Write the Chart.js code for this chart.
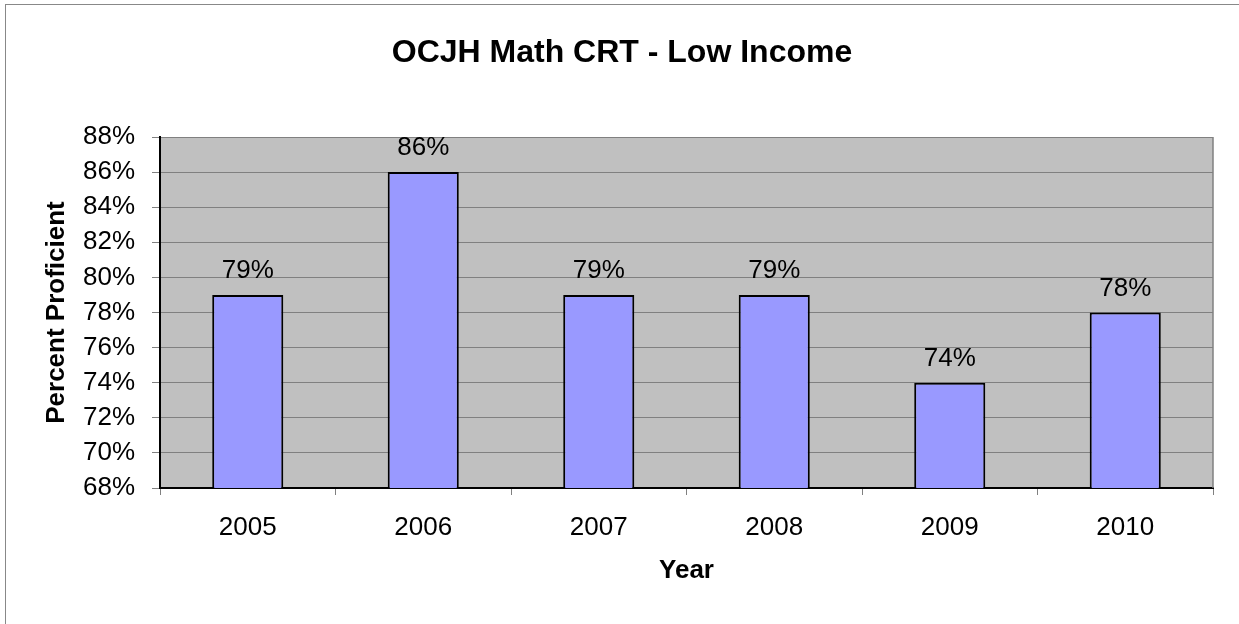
<!DOCTYPE html>
<html>
<head>
<meta charset="utf-8">
<title>OCJH Math CRT - Low Income</title>
<script src="https://cdn.jsdelivr.net/npm/chart.js@4.4.1/dist/chart.umd.min.js"></script>
<style>
    html, body { margin: 0; padding: 0; background: #fff; }
    #wrap { width: 1239px; height: 624px; position: relative; }
</style>
</head>
<body>
<div id="wrap"><canvas id="crtChart"></canvas></div>
<script>
// Low income math CRT results by year
const years = ['2005', '2006', '2007', '2008', '2009', '2010'];
const percentProficient = [79, 86, 79, 79, 74, 78];
const yMin = 68;
const yMax = 88;
const yStep = 2;

const chartTitle = 'OCJH Math CRT - Low Income';
const FONT = "'Liberation Sans', Arial, sans-serif";

// Gray plot background, plot border, outer frame and the title
const plotBackground = {
    id: 'plotBackground',
    beforeDraw(chart) {
        const { ctx, chartArea: a } = chart;
        ctx.save();
        ctx.strokeStyle = '#888';
        ctx.lineWidth = 1;
        ctx.strokeRect(5.5, 4.5, chart.width + 50, chart.height + 50);
        ctx.fillStyle = '#c0c0c0';
        ctx.fillRect(a.left, a.top, a.right - a.left, a.bottom - a.top);

        // title sits centred over the whole frame, not the plot
        ctx.font = 'bold 32px ' + FONT;
        ctx.fillStyle = '#000';
        ctx.textAlign = 'center';
        ctx.textBaseline = 'middle';
        ctx.fillText(chartTitle, 622, 53);
        ctx.restore();
    },
    afterDraw(chart) {
        const { ctx, chartArea: a } = chart;
        ctx.save();
        ctx.strokeStyle = '#808080';
        ctx.lineWidth = 1.5;
        ctx.beginPath();
        ctx.moveTo(a.right, a.top);
        ctx.lineTo(a.right, a.bottom);
        ctx.stroke();
        ctx.restore();
    }
};

// Value labels above each bar
const barLabels = {
    id: 'barLabels',
    afterDatasetsDraw(chart) {
        const { ctx } = chart;
        const meta = chart.getDatasetMeta(0);
        ctx.save();
        ctx.font = '26px ' + FONT;
        ctx.fillStyle = '#000';
        ctx.textAlign = 'center';
        ctx.textBaseline = 'alphabetic';
        meta.data.forEach((bar, i) => {
            ctx.fillText(percentProficient[i] + '%', bar.x, bar.y - 17);
        });
        ctx.restore();
    }
};

const ctx = document.getElementById('crtChart').getContext('2d');
new Chart(ctx, {
    type: 'bar',
    data: {
        labels: years,
        datasets: [{
            data: percentProficient,
            backgroundColor: '#9999ff',
            borderColor: '#000',
            borderWidth: 2,
            borderSkipped: false,
            categoryPercentage: 0.405,
            barPercentage: 1
        }]
    },
    options: {
        responsive: true,
        maintainAspectRatio: false,
        animation: false,
        layout: {
            padding: { left: 0, right: 26, top: 137, bottom: 0 }
        },
        plugins: {
            legend: { display: false },
            tooltip: { enabled: false },
            title: { display: false }
        },
        scales: {
            x: {
                grid: {
                    drawOnChartArea: false,
                    drawTicks: true,
                    tickLength: 7,
                    color: '#808080',
                    offset: true
                },
                border: { color: '#000', width: 2 },
                ticks: {
                    color: '#000',
                    padding: 17,
                    font: { family: FONT, size: 26 }
                },
                title: {
                    display: true,
                    text: 'Year',
                    color: '#000',
                    font: { family: FONT, size: 26, weight: 'bold' },
                    padding: { top: 0, bottom: 38 }
                },
                afterFit(scale) {
                    scale.height = 136;
                }
            },
            y: {
                min: yMin,
                max: yMax,
                grid: {
                    color: '#808080',
                    lineWidth: 1,
                    tickLength: 8
                },
                border: { color: '#000', width: 2 },
                ticks: {
                    stepSize: yStep,
                    color: '#000',
                    padding: 17,
                    font: { family: FONT, size: 26 },
                    callback: (v) => v + '%'
                },
                title: {
                    display: true,
                    text: 'Percent Proficient',
                    color: '#000',
                    font: { family: FONT, size: 26, weight: 'bold' },
                    padding: { top: 41, bottom: 0 }
                },
                afterFit(scale) {
                    scale.width = 160;
                }
            }
        }
    },
    plugins: [plotBackground, barLabels]
});
</script>
</body>
</html>
